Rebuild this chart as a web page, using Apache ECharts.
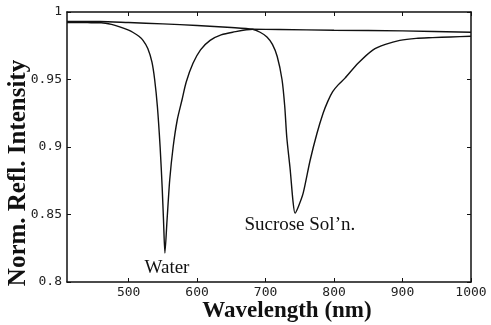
<!DOCTYPE html>
<html>
<head>
<meta charset="utf-8">
<script src="https://cdn.jsdelivr.net/npm/echarts@6/dist/echarts.min.js"></script>
<style>
  html, body { margin: 0; padding: 0; background: #fff; }
  #main { width: 491px; height: 325px; }
</style>
</head>
<body>
<div id="main"></div>
<script>
// wavelength (nm) / normalised reflected intensity
var waterNm = [410, 440, 460, 475, 487, 500, 506, 515, 521, 528, 534, 538, 542, 546, 549, 551, 553,
  556, 560, 565, 571, 578, 584, 594, 605, 619, 635, 652, 681, 720, 800, 900, 1000];
var waterI = [0.9922, 0.9921, 0.992, 0.9908, 0.989, 0.9865, 0.985, 0.982, 0.979, 0.973, 0.963, 0.950,
  0.930, 0.900, 0.870, 0.845, 0.8215, 0.845, 0.8756, 0.900, 0.920, 0.935, 0.948, 0.962, 0.972, 0.979,
  0.983, 0.985, 0.9872, 0.9870, 0.9865, 0.986, 0.985];

var sucroseNm = [410, 458, 500, 550, 600, 650, 681, 692, 702, 710, 717, 724, 728, 731, 736, 740, 743,
  748, 755, 765, 775, 784, 791, 798, 806, 816, 835, 857, 875, 896, 920, 944, 970, 1000];
var sucroseI = [0.993, 0.993, 0.9922, 0.9912, 0.990, 0.9885, 0.9872, 0.985, 0.9815, 0.976, 0.967, 0.950,
  0.930, 0.907, 0.883, 0.860, 0.851, 0.856, 0.866, 0.890, 0.910, 0.925, 0.934, 0.941, 0.946, 0.951,
  0.962, 0.972, 0.976, 0.979, 0.9805, 0.981, 0.9815, 0.982];

var xTicks = [500, 600, 700, 800, 900, 1000];

function pairs(xs, ys) {
  return xs.map(function (x, i) { return [x, ys[i]]; });
}

var myChart = echarts.init(document.getElementById('main'));

var serif = 'Liberation Serif';
var mono = 'DejaVu Sans Mono';

var frameLine = { lineStyle: { color: '#111', width: 1.5 } };

option = {
    animation: false,
    backgroundColor: '#fff',
    grid: { left: 67, right: 20, top: 12, bottom: 43, containLabel: false, outerBoundsMode: 'none' },
    xAxis: [{
        type: 'value',
        min: 410,
        max: 1000,
        name: 'Wavelength (nm)',
        nameLocation: 'middle',
        nameGap: 18,
        nameMoveOverlap: false,
        nameTextStyle: { fontFamily: serif, fontSize: 23, fontWeight: 'bold', color: '#111', padding: [0, 0, 0, 36] },
        axisLine: frameLine,
        axisTick: { inside: true, length: 4, customValues: xTicks, lineStyle: { color: '#111' } },
        axisLabel: {
            customValues: xTicks, margin: 4, fontFamily: mono, fontSize: 13, color: '#222',
            formatter: function (v) { return String(v); }
        },
        splitLine: { show: false }
    }, {
        type: 'value',
        position: 'top',
        min: 410,
        max: 1000,
        axisLine: frameLine,
        axisTick: { inside: true, length: 4, customValues: xTicks, lineStyle: { color: '#111' } },
        axisLabel: { show: false },
        splitLine: { show: false }
    }],
    yAxis: [{
        type: 'value',
        min: 0.8,
        max: 1,
        interval: 0.05,
        name: 'Norm. Refl. Intensity',
        nameLocation: 'middle',
        nameGap: 36,
        nameMoveOverlap: false,
        nameTextStyle: { fontFamily: serif, fontSize: 25, fontWeight: 'bold', color: '#111', padding: [0, 52, 0, 0] },
        axisLine: frameLine,
        axisTick: { inside: true, length: 4, lineStyle: { color: '#111' } },
        axisLabel: { margin: 5, fontFamily: mono, fontSize: 13, color: '#222' },
        splitLine: { show: false }
    }, {
        type: 'value',
        position: 'right',
        min: 0.8,
        max: 1,
        interval: 0.05,
        axisLine: frameLine,
        axisTick: { inside: true, length: 4, lineStyle: { color: '#111' } },
        axisLabel: { show: false },
        splitLine: { show: false }
    }],
    series: [{
        name: 'Water',
        type: 'line',
        data: pairs(waterNm, waterI),
        smooth: 0.25,
        showSymbol: false,
        lineStyle: { color: '#111', width: 1.4 },
        markPoint: {
            symbol: 'circle',
            symbolSize: 1,
            itemStyle: { color: 'transparent' },
            label: { show: true, position: 'inside', formatter: 'Water', fontFamily: serif, fontSize: 19, color: '#111' },
            data: [{ coord: [556, 0.8104] }]
        }
    }, {
        name: 'Sucrose',
        type: 'line',
        data: pairs(sucroseNm, sucroseI),
        smooth: 0.25,
        showSymbol: false,
        lineStyle: { color: '#111', width: 1.4 },
        markPoint: {
            symbol: 'circle',
            symbolSize: 1,
            itemStyle: { color: 'transparent' },
            label: { show: true, position: 'inside', formatter: "Sucrose Sol\u2019n.", fontFamily: serif, fontSize: 19, color: '#111' },
            data: [{ coord: [750, 0.8422] }]
        }
    }]
};

myChart.setOption(option);
</script>
</body>
</html>
